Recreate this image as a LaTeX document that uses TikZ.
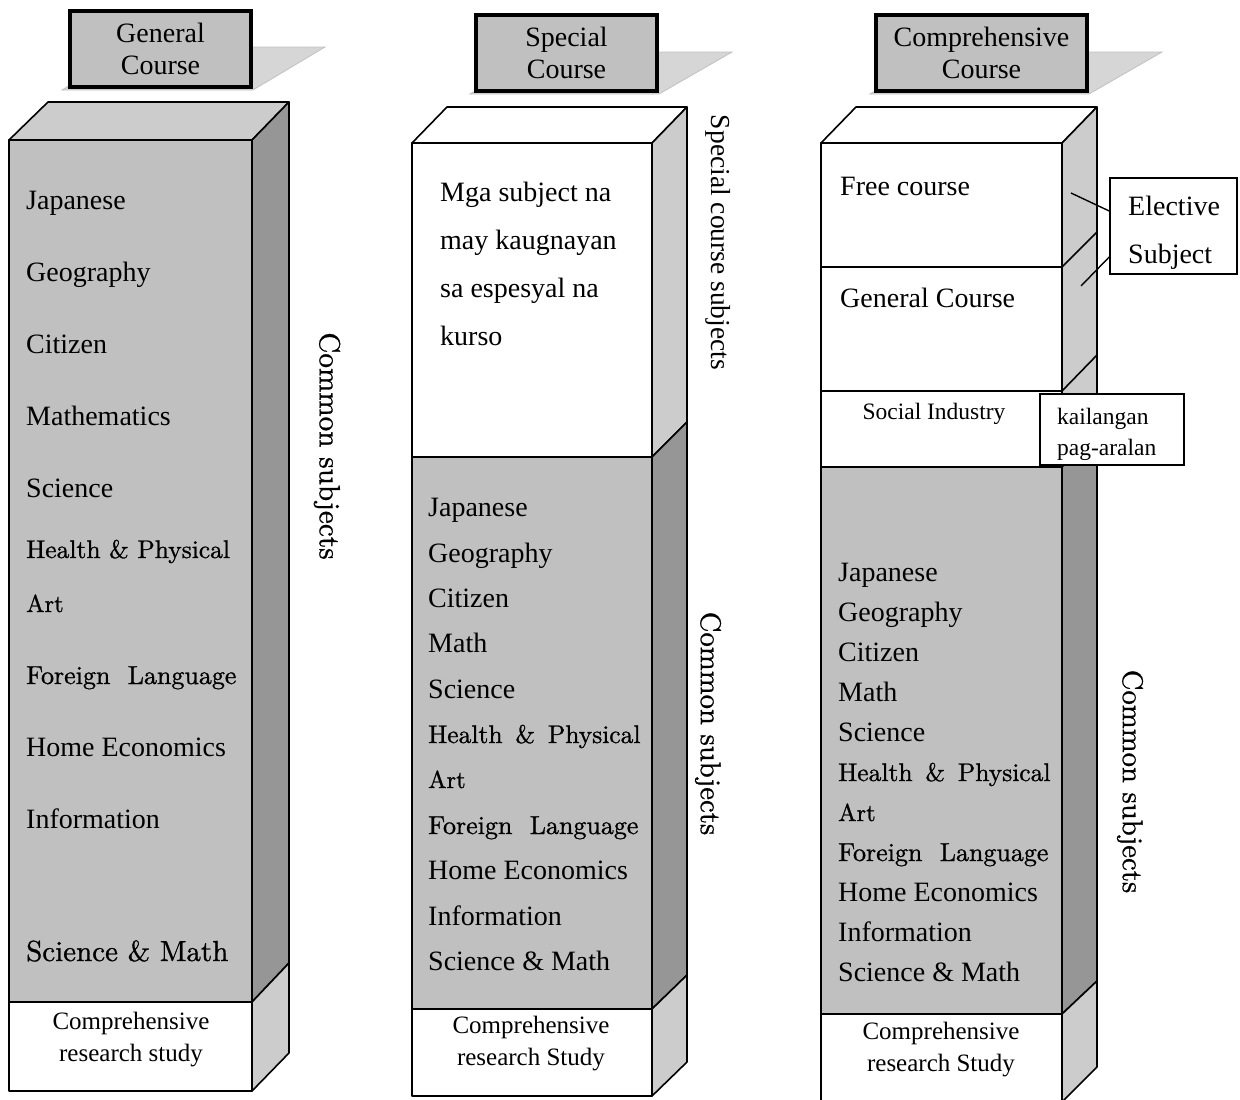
\documentclass[tikz,border=0pt]{standalone}
\usepackage{fontspec}
\newfontfamily\tms{Liberation Serif}
\newfontfamily\cent{lmroman10-regular}[Extension=.otf, RawFeature={embolden=0.9}]
\usetikzlibrary{positioning}
\definecolor{frontgray}{HTML}{C0C0C0}
\definecolor{sidegray}{HTML}{969696}
\definecolor{lightgray}{HTML}{CCCCCC}
\definecolor{shadowgray}{HTML}{D6D6D6}
\tikzset{
  wall/.style={draw=black, line width=1.6pt, line join=round},
  shade/.style={fill=shadowgray, draw=frontgray, line width=.8pt},
  head/.style={draw=black, line width=4pt, fill=frontgray, align=center, inner sep=0pt,
    minimum height=76, font=\tms\fontsize{28}{32}\selectfont},
  item/.style={anchor=base west, inner sep=0pt, font=\tms\fontsize{28}{34}\selectfont},
  lmitem/.style={anchor=base west, inner sep=0pt, font=\cent\fontsize{25.5}{30}\selectfont},
  vlabel/.style={rotate=-90, inner sep=0pt, font=\cent\fontsize{28.7}{32}\selectfont},
  foot/.style={align=center, inner sep=0pt, font=\tms\fontsize{25}{32}\selectfont},
  small/.style={inner sep=0pt, font=\tms\fontsize{23.5}{31}\selectfont},
  tag/.style={draw, line width=1.6pt, fill=white}
}
\begin{document}
\begin{tikzpicture}[x=1pt,y=-1pt]
\useasboundingbox (0,0) rectangle (1240,1100);

% ---- General Course
\filldraw[shade] (62,90) -- (134,47) -- (325,47) -- (253,90) -- cycle;
\node[head, minimum width=181] (hGen) at (160.5,49) {General\\Course};
\filldraw[wall, fill=lightgray] (9,140) -- (48,102) -- (289,102) -- (252,140) -- cycle;
\filldraw[wall, fill=sidegray] (252,140) -- (289,102) -- (289,963) -- (252,1002) -- cycle;
\filldraw[wall, fill=frontgray] (9,140) rectangle (252,1002);
\filldraw[wall, fill=lightgray] (252,1002) -- (289,963) -- (289,1053) -- (252,1091) -- cycle;
\filldraw[wall, fill=white] (9,1002) rectangle (252,1091);
\foreach \t/\y [count=\i] in {Japanese/209, Geography/281, Citizen/353, Mathematics/425,
    Science/497, Home Economics/756, Information/828}
  \node[item] (gen\i) at (26,\y) {\t};
\node[lmitem] (genHP) at (26,558) {Health \& Physical};
\node[lmitem, font=\cent\fontsize{24.5}{30}\selectfont] (genArt) at (26,612) {Art};
\node[lmitem, font=\cent\fontsize{26}{30}\selectfont] (genFL) at (26,684) {Foreign\ \ Language};
\node[lmitem, font=\cent\fontsize{29}{34}\selectfont] (genSM) at (26,961) {Science \& Math};
\node[vlabel, font=\cent\fontsize{29.2}{32}\selectfont] (comGen) at (327,446) {Common subjects};
\node[foot] (resGen) at (131,1040) {Comprehensive\\research study};

% ---- Special Course
\filldraw[shade] (470,94) -- (543,52) -- (732,52) -- (659,94) -- cycle;
\node[head, minimum width=181] (hSpe) at (566.5,53) {Special\\Course};
\filldraw[wall, fill=white] (412,143) -- (447,107) -- (687,107) -- (652,143) -- cycle;
\filldraw[wall, fill=lightgray] (652,143) -- (687,107) -- (687,422) -- (652,457) -- cycle;
\filldraw[wall, fill=sidegray] (652,457) -- (687,422) -- (687,975) -- (652,1009) -- cycle;
\filldraw[wall, fill=lightgray] (652,1009) -- (687,975) -- (687,1062) -- (652,1096) -- cycle;
\filldraw[wall, fill=white] (412,143) rectangle (652,457);
\filldraw[wall, fill=frontgray] (412,457) rectangle (652,1009);
\filldraw[wall, fill=white] (412,1009) rectangle (652,1096);
\foreach \t/\y [count=\i] in {Mga subject na/201, may kaugnayan/249, sa espesyal na/297, kurso/345}
  \node[item] (spe\i) at (440,\y) {\t};
\foreach \t/\y [count=\i] in {Japanese/516, Geography/562, Citizen/607, Math/652, Science/698,
    Home Economics/879, Information/925, Science \& Math/970}
  \node[item] (speC\i) at (428,\y) {\t};
\node[lmitem] (speHP) at (428,743) {Health\ \,\&\ \,Physical};
\node[lmitem, font=\cent\fontsize{24.5}{30}\selectfont] (speArt) at (428,788) {Art};
\node[lmitem, font=\cent\fontsize{26}{30}\selectfont] (speFL) at (428,834) {Foreign\ \ Language};
\node[vlabel, font=\tms\fontsize{27.5}{32}\selectfont] (speSub) at (718,242.5) {Special course subjects};
\node[vlabel] (comSpe) at (708,723.5) {Common subjects};
\node[foot] (resSpe) at (531,1044) {Comprehensive\\research Study};

% ---- Comprehensive Course
\filldraw[shade] (870,94) -- (943,52) -- (1162,52) -- (1089,94) -- cycle;
\node[head, minimum width=211] (hCom) at (981.5,53) {Comprehensive\\Course};
\filldraw[wall, fill=white] (821,143) -- (856,107) -- (1097,107) -- (1062,143) -- cycle;
\filldraw[wall, fill=lightgray] (1062,143) -- (1097,107) -- (1097,432) -- (1062,467) -- cycle;
\draw[wall] (1062,267) -- (1097,232) (1062,391) -- (1097,355);
\filldraw[wall, fill=sidegray] (1062,467) -- (1097,432) -- (1097,981) -- (1062,1014) -- cycle;
\filldraw[wall, fill=lightgray] (1062,1014) -- (1097,981) -- (1097,1067) -- (1062,1102) -- cycle;
\filldraw[wall, fill=white] (821,143) rectangle (1062,267);
\filldraw[wall, fill=white] (821,267) rectangle (1062,391);
\filldraw[wall, fill=white] (821,391) rectangle (1062,467);
\filldraw[wall, fill=frontgray] (821,467) rectangle (1062,1014);
\filldraw[wall, fill=white] (821,1014) rectangle (1062,1102);
\node[item] (free) at (840,195) {Free course};
\node[item] (genC) at (840,307) {General Course};
\node[small] (socInd) at (934,414) {Social Industry};
\node[tag, minimum width=144, minimum height=71] (must) at (1112,429.5) {};
\node[small, anchor=base west] (must1) at (1057,424) {kailangan};
\node[small, anchor=base west] (must2) at (1057,455) {pag-aralan};
\node[tag, minimum width=127, minimum height=96] (elec) at (1173.5,226) {};
\node[item] (elec1) at (1128,215) {Elective};
\node[item] (elec2) at (1128,263) {Subject};
\coordinate (tickA) at (1071,193);
\coordinate (tickB) at (1081,286);
\draw[line width=1.4pt] (tickA) -- ([yshift=15pt]elec.west);
\draw[line width=1.4pt] (tickB) -- ([yshift=-31pt]elec.west);
\foreach \t/\y [count=\i] in {Japanese/581, Geography/621, Citizen/661, Math/701, Science/741,
    Home Economics/901, Information/941, Science \& Math/981}
  \node[item] (comC\i) at (838,\y) {\t};
\node[lmitem] (comHP) at (838,781) {Health\ \,\&\ \,Physical};
\node[lmitem, font=\cent\fontsize{24.5}{30}\selectfont] (comArt) at (838,821) {Art};
\node[lmitem, font=\cent\fontsize{26}{30}\selectfont] (comFL) at (838,861) {Foreign\ \ Language};
\node[vlabel] (comCom) at (1130,781.5) {Common subjects};
\node[foot] (resCom) at (941,1050) {Comprehensive\\research Study};
\end{tikzpicture}
\end{document}
